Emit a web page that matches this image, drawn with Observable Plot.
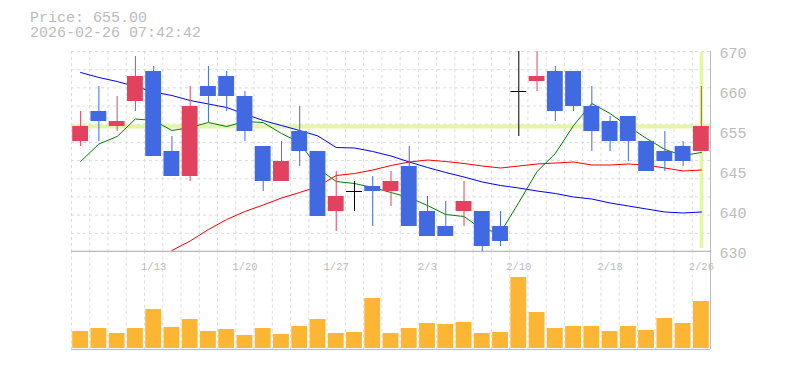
<!DOCTYPE html>
<html><head><meta charset="utf-8">
<script src="https://cdn.jsdelivr.net/npm/d3@7"></script>
<script src="https://cdn.jsdelivr.net/npm/@observablehq/plot@0.6"></script>
<style>
body{margin:0;background:#fff;}
#wrap{position:relative;width:785px;height:370px;overflow:hidden;background:#fff;}
#wrap svg{position:absolute;left:0;}
.t{position:absolute;left:30px;top:11px;font-family:"Liberation Mono",monospace;font-size:15px;color:#bbb;line-height:15px;white-space:pre;}
</style></head><body>
<div id="wrap">
<div class="t">Price: 655.00
2026-02-26 07:42:42</div>
</div>
<script>
const dates = ["1/6","1/7","1/8","1/9","1/13","1/14","1/15","1/16","1/19","1/20","1/21","1/22","1/23","1/26","1/27","1/28","1/29","1/30","2/2","2/3","2/4","2/5","2/6","2/9","2/10","2/12","2/13","2/16","2/17","2/18","2/19","2/20","2/24","2/25","2/26"];
const open  = [652,658,655,660,666,650,645,663,665,661,651,644,654,650,638,642,643,642,647,638,635,638,638,635,662,664,666,666,659,656,657,652,650,651,650];
const close = [655,656,656,665,649,645,659,661,661,654,644,648,650,637,641,642,642,644,635,633,633,640,631,632,662,665,658,659,654,652,652,646,648,648,655];
const high  = [658,663,661,669,667,653,663,667,666,662,651,652,659,650,646,644,645,646,651,641,640,644,638,638,672,671,667,666,663,657,657,652,654,652,663];
const low   = [651,652,654,658,649,645,644,655.8,658,652,642,644,647,637,634,638,635,639,635,633,633,635,630,631,653,662,656,658,650,650,648,646,646,647,650];
const volume = [17000,20000,15000,20000,39000,21000,29000,17000,19000,13000,20000,14000,22000,29000,15000,16000,50000,15000,20000,25000,24000,26000,15000,16000,71000,36000,20000,22000,22000,17000,22000,18000,30000,25000,47000];
const ma5  = [648,651.5,653,656.5,656.2,654.2,654.8,655.8,655,656,655.8,653.6,651.8,646.6,644,643.6,642.8,641.8,640.8,639.2,637.4,637,634.4,633.8,639.8,646,649.6,655.2,659.6,657.6,655,652.6,650.4,649.2,649.8];
const ma25 = [null,null,null,null,null,630.2,632.1,634.4,636.4,638.0,639.3,640.7,641.8,643.0,645.2,645.6,646.3,647.2,647.9,648.3,648.0,647.6,647.1,646.7,647.1,647.5,647.7,647.9,647.3,647.3,647.5,647.3,646.7,646.1,646.3];
const ma75 = [665.8,664.8,664.0,663.0,661.9,661.2,660.2,659.5,658.8,657.5,656.2,655.2,654.2,653.1,650.8,650.7,650.0,649.1,647.9,646.8,645.8,644.9,643.9,643.2,642.7,642.1,641.6,640.9,640.5,639.7,639.1,638.5,637.9,637.7,637.9];
const priceTicks = [670,662,654,646,638,630];
const priceTickLabels = ["670","660","655","645","640","630"];
const tickDates = ["1/13","1/20","1/27","2/3","2/10","2/18","2/26"];
const lastPrice = 655;

const W = 785, L = 71, R = 75;
const RED = "#e1435f", BLUE = "#4169e1", HL = "#e4f4a8", GRID = "#dddddd", BORDER = "#bbbbbb", TXT = "#bbbbbb";
const FONT = "Liberation Mono, DejaVu Sans Mono, monospace";
const rows = dates.map((d, i) => ({date: d, open: open[i], close: close[i], high: high[i], low: low[i], volume: volume[i], ma5: ma5[i], ma25: ma25[i], ma75: ma75[i]}));
const half = (W - L - R) / dates.length / 2;
const colorOf = r => r.close > r.open ? RED : r.close < r.open ? BLUE : "#000000";
const gridY = d3.range(12).map(i => 670 - i * 40 / 11);
const last = dates[dates.length - 1];
const dash = "3,3";

const price = Plot.plot({
  width: W, height: 262, marginLeft: L, marginRight: R, marginTop: 51, marginBottom: 11,
  x: {type: "band", domain: dates, padding: 0, round: false, axis: null},
  y: {domain: [630, 670], axis: null},
  color: {type: "identity"},
  style: {background: "transparent", overflow: "visible"},
  marks: [
    Plot.ruleY(gridY, {stroke: GRID, strokeDasharray: dash}),
    Plot.ruleX(dates, {dx: -half, stroke: GRID, strokeDasharray: dash}),
    Plot.ruleY([lastPrice], {stroke: HL, strokeWidth: 4}),
    Plot.ruleX([last], {stroke: HL, strokeWidth: 3.5, insetTop: 1, insetBottom: 3}),
    Plot.line(rows, {x: "date", y: "ma75", stroke: "#0000ff", strokeWidth: 1, clip: true}),
    Plot.line(rows, {x: "date", y: "ma25", stroke: "#ff0000", strokeWidth: 1, clip: true}),
    Plot.line(rows, {x: "date", y: "ma5", stroke: "#008000", strokeWidth: 1, clip: true}),
    Plot.ruleX(rows, {x: "date", y1: "low", y2: "high", stroke: colorOf, clip: true}),
    Plot.barY(rows.filter(r => r.open !== r.close), {x: "date", y1: "open", y2: "close", fill: colorOf, insetLeft: 1.2, insetRight: 1.2}),
    Plot.tickY(rows.filter(r => r.open === r.close), {x: "date", y: "close", stroke: "#000000", insetLeft: 1.2, insetRight: 1.2}),
    Plot.ruleY([630], {stroke: BORDER}),
    Plot.ruleX([last], {dx: half, stroke: BORDER}),
    Plot.text(priceTicks, {y: d => d, text: (d, i) => priceTickLabels[i], frameAnchor: "right", textAnchor: "start", dx: 9, dy: 2, fontSize: 15, fontFamily: FONT, fill: TXT})
  ]
});
price.style.top = "0px";

const volTop = 97300;
const vol = Plot.plot({
  width: W, height: 112, marginLeft: L, marginRight: R, marginTop: 10.7, marginBottom: 4,
  x: {type: "band", domain: dates, padding: 0, round: false, axis: null},
  y: {domain: [0, volTop], axis: null},
  style: {background: "transparent", overflow: "visible"},
  marks: [
    Plot.ruleX(dates, {dx: -half, stroke: GRID, strokeDasharray: dash, insetBottom: -1}),
    Plot.barY(rows, {x: "date", y: "volume", fill: "#fdb634", insetLeft: 1.2, insetRight: 1.2}),
    Plot.ruleY([volTop], {stroke: BORDER}),
    Plot.ruleY([0], {dy: 1, stroke: BORDER}),
    Plot.ruleX([last], {dx: half, stroke: BORDER, insetBottom: -1}),
    Plot.text(tickDates, {x: d => d, frameAnchor: "top", dy: 11.5, fontSize: 10.5, fontFamily: FONT, fill: TXT})
  ]
});
vol.style.top = "240px";

const wrap = document.getElementById("wrap");
wrap.appendChild(vol);
wrap.appendChild(price);
</script>
</body></html>
